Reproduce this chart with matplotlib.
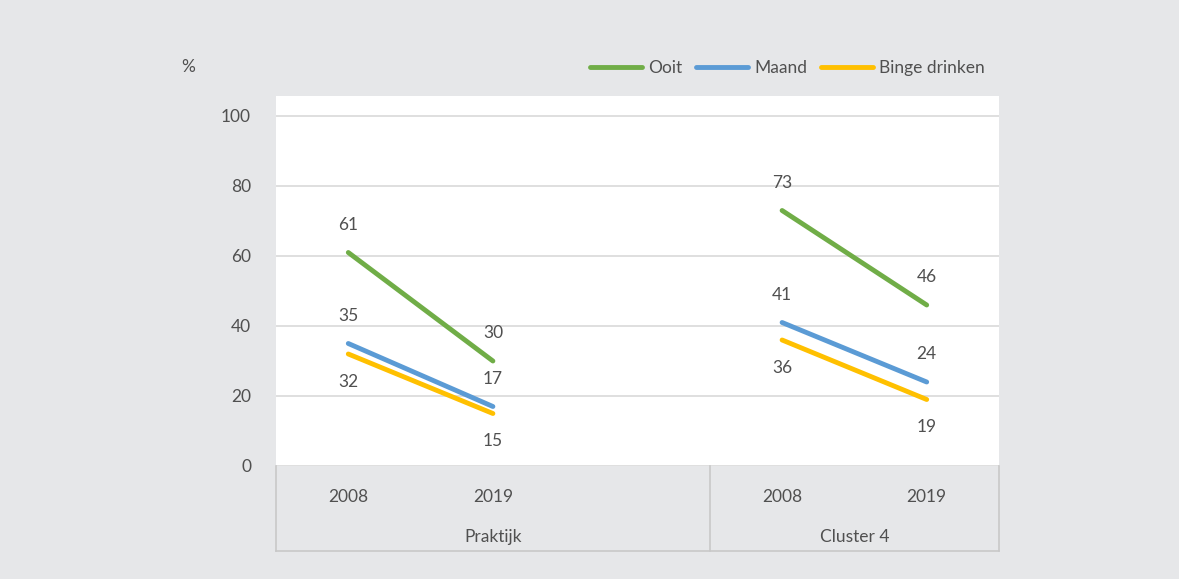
import numpy as np
import matplotlib
matplotlib.use("Agg")
import matplotlib.pyplot as plt

# ============ DATA ============
years = ['2008', '2019', '', '2008', '2019']
groups = ['Praktijk', 'Cluster 4']
series_names = ['Ooit', 'Maand', 'Binge drinken']
ooit = [61, 30, np.nan, 73, 46]
maand = [35, 17, np.nan, 41, 24]
binge = [32, 15, np.nan, 36, 19]

colors = ['#70AD47', '#5B9BD5', '#FFC000']
BG = '#E6E7E9'
TXT = '#505050'
GRID = '#D9D9D9'
FS = 12.5

plt.rcParams['font.family'] = ['Lato', 'DejaVu Sans']

fig = plt.figure(figsize=(11.79, 5.79), dpi=100, facecolor=BG)
ax = fig.add_axes([276 / 1179, 113 / 579, 723 / 1179, 370 / 579])
ax.set_facecolor('white')

x = np.arange(len(years))
ymax = 100 * 370 / 350
ax.set_xlim(-0.5, 4.5)
ax.set_ylim(0, ymax)

for vals, col, name in zip([ooit, maand, binge], colors, series_names):
    ax.plot(x, vals, color=col, lw=3.5, solid_capstyle='round', label=name, zorder=3)

# data labels: above for Ooit/Maand, below for Binge
for vals, off in zip([ooit, maand, binge], [20, 20, -20]):
    for xi, v in zip(x, vals):
        if np.isnan(v):
            continue
        ax.annotate(f'{v:.0f}', (xi, v), xytext=(0, off), textcoords='offset points',
                    ha='center', va='center', fontsize=FS, color=TXT)

ax.set_yticks(range(0, 101, 20))
ax.yaxis.grid(True, color=GRID, lw=1.2)
ax.set_axisbelow(True)
ax.tick_params(axis='y', length=0, pad=18, labelsize=FS, labelcolor=TXT)
ax.set_xticks([])
for s in ax.spines.values():
    s.set_visible(False)

# category axis (two levels)
yb = -85 / 370
tr = ax.get_xaxis_transform()
for xv in [-0.5, 2.5, 4.5]:
    ax.plot([xv, xv], [0, yb], transform=tr, color='#C8C8C8', lw=1.2, clip_on=False)
ax.plot([-0.5, 4.5], [yb, yb], transform=tr, color='#C8C8C8', lw=1.2, clip_on=False)
for xi, lab in zip(x, years):
    ax.text(xi, -31 / 370, lab, transform=tr, ha='center', va='center', fontsize=FS, color=TXT)
ax.text(1, -71 / 370, groups[0], transform=tr, ha='center', va='center', fontsize=FS, color=TXT)
ax.text(3.5, -71 / 370, groups[1], transform=tr, ha='center', va='center', fontsize=FS, color=TXT)

fig.text(188 / 1179, 1 - 67 / 579, '%', ha='center', va='center', fontsize=FS, color=TXT)

leg = fig.legend(loc='center right', bbox_to_anchor=(992 / 1179, 1 - 68 / 579), ncol=3,
                 frameon=False, fontsize=FS, handlelength=3.0, handletextpad=0.35,
                 columnspacing=0.8, labelcolor=TXT, borderaxespad=0)

fig.savefig('out.png', dpi=100, facecolor=BG)
